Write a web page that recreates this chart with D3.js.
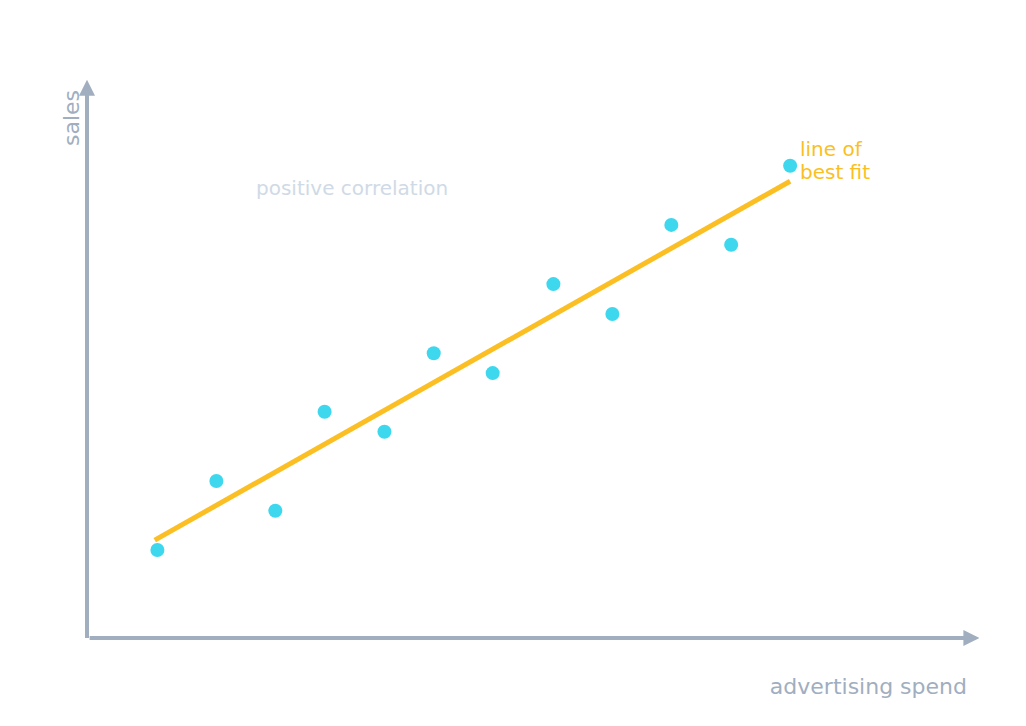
<!DOCTYPE html>
<html><head><meta charset="utf-8">
<script src="https://cdn.jsdelivr.net/npm/d3@7"></script>
<style>body{margin:0;background:#fff}text{font-family:"DejaVu Sans",sans-serif}</style>
</head><body>
<svg id="c" width="1026" height="726"></svg>
<script>
const spendValues = [0.80,1.47,2.14,2.70,3.38,3.94,4.61,5.30,5.97,6.64,7.32,7.99];
const salesValues = [1.59,2.84,2.30,4.09,3.73,5.15,4.79,6.40,5.86,7.47,7.11,8.54];
const fitX = [0.77,7.99];
const fitY = [1.77,8.26];
const labels = {x:"advertising spend", y:"sales", note:"positive correlation", fit:["line of","best fit"]};

const svg = d3.select("#c");
const x = d3.scaleLinear().domain([0,10]).range([87,967]);
const y = d3.scaleLinear().domain([0,10]).range([638,85]);
const axisCol = "#a0aec0";

svg.append("defs").append("marker").attr("id","ar").attr("viewBox","0 0 10 10").attr("refX",5).attr("refY",5)
  .attr("markerWidth",4).attr("markerHeight",4).attr("orient","auto")
  .append("path").attr("d","M0,0L10,5L0,10Z").attr("fill",axisCol);

svg.append("line").attr("x1",x(0.03)).attr("y1",y(0)).attr("x2",x(10.05)).attr("y2",y(0))
  .attr("stroke",axisCol).attr("stroke-width",4).attr("marker-end","url(#ar)");
svg.append("line").attr("x1",x(0)).attr("y1",y(-0)).attr("x2",x(0)).attr("y2",y(9.95))
  .attr("stroke",axisCol).attr("stroke-width",4).attr("marker-end","url(#ar)");

svg.append("text").attr("x",967).attr("y",694).attr("text-anchor","end").attr("font-size",22)
  .attr("fill",axisCol).text(labels.x);
svg.append("text").attr("transform","translate(79,118) rotate(-90)").attr("text-anchor","middle")
  .attr("font-size",22).attr("fill",axisCol).text(labels.y);
svg.append("text").attr("x",256).attr("y",195).attr("font-size",20).attr("fill","#cfdae6").text(labels.note);

svg.append("line").attr("x1",x(fitX[0])).attr("y1",y(fitY[0])).attr("x2",x(fitX[1])).attr("y2",y(fitY[1]))
  .attr("stroke","#fbbf24").attr("stroke-width",5);

svg.selectAll("circle").data(spendValues).join("circle")
  .attr("cx",d=>x(d)).attr("cy",(d,i)=>y(salesValues[i])).attr("r",7).attr("fill","#3dd7ee");

svg.append("text").attr("x",800).attr("y",156).attr("font-size",20).attr("fill","#fbbf24")
  .selectAll("tspan").data(labels.fit).join("tspan").attr("x",800).attr("dy",(d,i)=>i?23:0).text(d=>d);
</script>
</body></html>
